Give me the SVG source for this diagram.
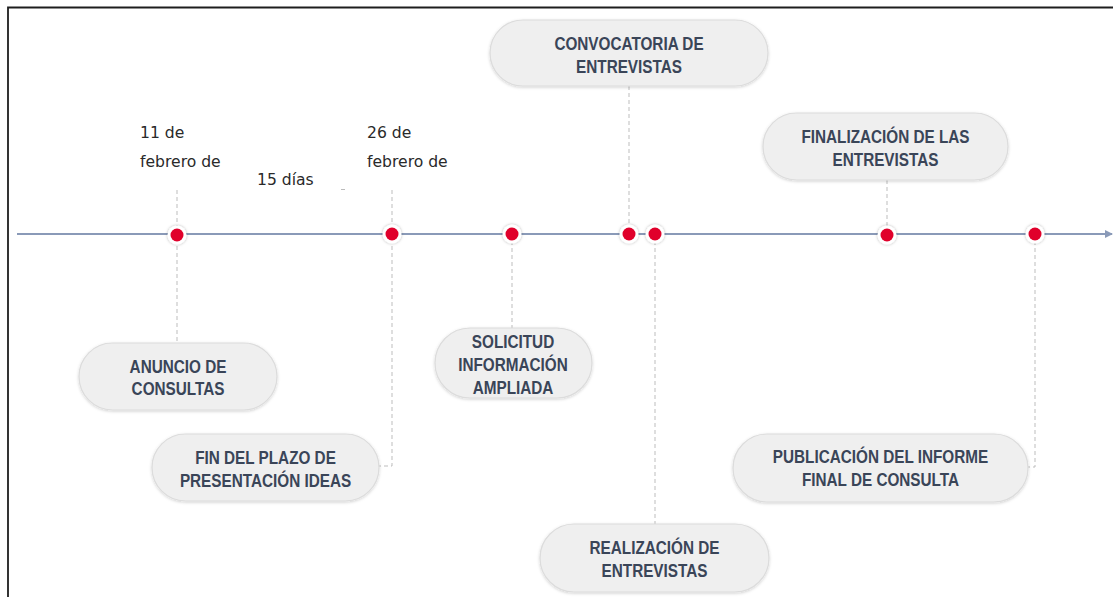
<svg xmlns="http://www.w3.org/2000/svg" width="1113" height="597" viewBox="0 0 1113 597">
<defs>
<filter id="sh" x="-20%" y="-30%" width="140%" height="160%">
<feDropShadow dx="0" dy="1" stdDeviation="1.6" flood-color="#000" flood-opacity="0.18"/>
</filter>
<filter id="dsh" x="-60%" y="-60%" width="220%" height="220%">
<feDropShadow dx="0" dy="0" stdDeviation="1.5" flood-color="#000" flood-opacity="0.3"/>
</filter>
<marker id="arr" markerWidth="8" markerHeight="8" refX="7" refY="4" orient="auto" markerUnits="userSpaceOnUse">
<path d="M0,0 L8,4 L0,8 Z" fill="#8A9AB8"/>
</marker>
<style>
.pill{fill:#EFEFEF;stroke:#DCDCDC;stroke-width:1.2;filter:url(#sh)}
.lbl{font-family:"Liberation Sans",Arial,sans-serif;font-weight:bold;font-size:18px;fill:#3A4558;text-anchor:middle}
.date{font-family:"DejaVu Sans",sans-serif;font-size:15.6px;fill:#2A2A2A}
.con{stroke:#BDBDBD;stroke-width:1;stroke-dasharray:4 3;fill:none}
.ring{fill:#fff;filter:url(#dsh)}
.dot{fill:#E0002B}
</style>
</defs>
<path d="M8,597 V7.5 H1113" fill="none" stroke="#1E1E1E" stroke-width="1.8"/>
<g id="connectors">
<line x1="17" y1="234" x2="1112" y2="234" stroke="#8A9AB8" stroke-width="2" marker-end="url(#arr)"/>
<path class="con" d="M177,190 V343"/>
<path class="con" d="M392,190 V466 H378"/>
<path class="con" d="M512,234 V328"/>
<path class="con" d="M629,86 V234"/>
<path class="con" d="M655,234 V524"/>
<path class="con" d="M887,180 V234"/>
<path class="con" d="M1035,234 V467 H1028"/>
<line x1="341" y1="189.5" x2="345" y2="189.5" stroke="#BBBBBB" stroke-width="1"/>
</g>
<g id="dots">
<g id="dot1"><circle class="ring" cx="177" cy="235" r="9.5"/><circle class="dot" cx="177" cy="235" r="6.5"/></g>
<g id="dot2"><circle class="ring" cx="392" cy="234" r="9.5"/><circle class="dot" cx="392" cy="234" r="6.5"/></g>
<g id="dot3"><circle class="ring" cx="512" cy="234" r="9.5"/><circle class="dot" cx="512" cy="234" r="6.5"/></g>
<g id="dot4"><circle class="ring" cx="629" cy="234" r="9.5"/><circle class="dot" cx="629" cy="234" r="6.5"/></g>
<g id="dot5"><circle class="ring" cx="655" cy="234" r="9.5"/><circle class="dot" cx="655" cy="234" r="6.5"/></g>
<g id="dot6"><circle class="ring" cx="887" cy="235" r="9.5"/><circle class="dot" cx="887" cy="235" r="6.5"/></g>
<g id="dot7"><circle class="ring" cx="1035" cy="234" r="9.5"/><circle class="dot" cx="1035" cy="234" r="6.5"/></g>
</g>
<g id="dates">
<text class="date" x="140" y="138">11 de</text>
<text class="date" x="140" y="167">febrero de</text>
<text class="date" x="257" y="185">15 días</text>
<text class="date" x="367" y="138">26 de</text>
<text class="date" x="367" y="167">febrero de</text>
</g>
<g id="n-convocatoria">
<rect class="pill" x="490" y="20" width="278" height="66" rx="33"/>
<g transform="translate(629,0) scale(0.85,1)"><text class="lbl" x="0" y="50.5">CONVOCATORIA DE</text><text class="lbl" x="0" y="73.5">ENTREVISTAS</text></g>
</g>
<g id="n-finalizacion">
<rect class="pill" x="763" y="113" width="245" height="67" rx="33.5"/>
<g transform="translate(885.5,0) scale(0.85,1)"><text class="lbl" x="0" y="143.5">FINALIZACIÓN DE LAS</text><text class="lbl" x="0" y="166.5">ENTREVISTAS</text></g>
</g>
<g id="n-anuncio">
<rect class="pill" x="79" y="343" width="198" height="67" rx="33.5"/>
<g transform="translate(178,0) scale(0.85,1)"><text class="lbl" x="0" y="373.5">ANUNCIO DE</text><text class="lbl" x="0" y="395.5">CONSULTAS</text></g>
</g>
<g id="n-fin-plazo">
<rect class="pill" x="152" y="434" width="227" height="67" rx="33.5"/>
<g transform="translate(265.5,0) scale(0.85,1)"><text class="lbl" x="0" y="464">FIN DEL PLAZO DE</text><text class="lbl" x="0" y="487">PRESENTACIÓN IDEAS</text></g>
</g>
<g id="n-solicitud">
<rect class="pill" x="435" y="328" width="157" height="70" rx="35"/>
<g transform="translate(513,0) scale(0.85,1)"><text class="lbl" x="0" y="348">SOLICITUD</text><text class="lbl" x="0" y="371">INFORMACIÓN</text><text class="lbl" x="0" y="394">AMPLIADA</text></g>
</g>
<g id="n-realizacion">
<rect class="pill" x="540" y="524" width="229" height="68" rx="34"/>
<g transform="translate(654.5,0) scale(0.85,1)"><text class="lbl" x="0" y="554.5">REALIZACIÓN DE</text><text class="lbl" x="0" y="577.5">ENTREVISTAS</text></g>
</g>
<g id="n-publicacion">
<rect class="pill" x="733" y="434" width="295" height="68" rx="34"/>
<g transform="translate(880.5,0) scale(0.85,1)"><text class="lbl" x="0" y="463.5">PUBLICACIÓN DEL INFORME</text><text class="lbl" x="0" y="486.5">FINAL DE CONSULTA</text></g>
</g>
</svg>
